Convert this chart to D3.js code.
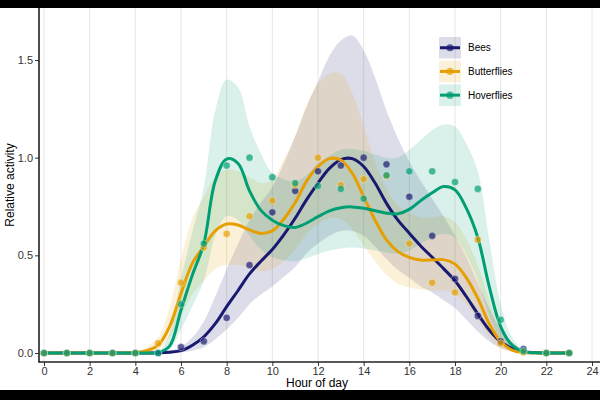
<html>
<head>
<meta charset="utf-8">
<script src="https://cdn.jsdelivr.net/npm/d3@7"></script>
<style>
  body { margin: 0; background: #000; }
  svg { display: block; font-family: "Liberation Sans", Arial, sans-serif; }
</style>
</head>
<body>
<svg id="chart"></svg>
<script>
// hours where the fitted curves / ribbons were read
var fitHours = [0,1,2,3,4,4.5,5,5.5,6,6.5,7,7.5,8,8.5,9,9.5,10,10.5,11,11.5,12,12.5,13,13.5,14,14.5,15,15.5,16,16.5,17,17.5,18,18.5,19,19.5,20,20.5,21,21.5,22,23];

var beeFit = [0,0,0,0,0,0,0.001,0.004,0.012,0.04,0.083,0.15,0.237,0.32,0.405,0.47,0.53,0.605,0.69,0.785,0.87,0.945,0.99,0.995,0.955,0.87,0.766,0.68,0.613,0.548,0.49,0.432,0.37,0.288,0.2,0.118,0.058,0.024,0.007,0.002,0,0];
var beeLo  = [0,0,0,0,0,0,0,0.001,0.003,0.012,0.03,0.07,0.12,0.18,0.25,0.30,0.34,0.39,0.44,0.51,0.56,0.60,0.625,0.625,0.60,0.545,0.48,0.425,0.385,0.34,0.31,0.27,0.23,0.17,0.11,0.06,0.025,0.008,0.001,0,0,0];
var beeHi  = [0,0,0,0,0,0.001,0.003,0.012,0.03,0.08,0.16,0.29,0.43,0.56,0.68,0.77,0.85,0.97,1.11,1.26,1.39,1.52,1.60,1.625,1.55,1.41,1.24,1.10,0.98,0.88,0.79,0.70,0.60,0.49,0.36,0.23,0.12,0.055,0.02,0.005,0,0];

var butterFit = [0,0,0,0,0.003,0.012,0.04,0.135,0.305,0.46,0.545,0.625,0.66,0.655,0.63,0.612,0.625,0.685,0.77,0.88,0.954,0.995,0.988,0.92,0.80,0.68,0.579,0.519,0.49,0.476,0.476,0.478,0.455,0.385,0.28,0.15,0.058,0.015,0.002,0,0,0];
var butterLo  = [0,0,0,0,0.001,0.005,0.02,0.08,0.19,0.30,0.37,0.43,0.45,0.45,0.44,0.42,0.43,0.47,0.53,0.61,0.66,0.69,0.685,0.635,0.55,0.47,0.40,0.355,0.335,0.325,0.32,0.32,0.30,0.25,0.17,0.08,0.025,0.005,0,0,0,0];
var butterHi  = [0,0,0,0,0.008,0.03,0.08,0.23,0.48,0.69,0.80,0.90,0.94,0.93,0.90,0.87,0.89,0.99,1.11,1.27,1.38,1.43,1.43,1.33,1.16,0.98,0.84,0.755,0.715,0.695,0.695,0.70,0.67,0.58,0.45,0.27,0.12,0.04,0.008,0.001,0,0];

var hoverFit = [0,0,0,0,0,0,0.002,0.035,0.22,0.40,0.56,0.88,0.993,0.97,0.83,0.73,0.68,0.652,0.643,0.665,0.698,0.728,0.744,0.748,0.741,0.728,0.716,0.713,0.735,0.78,0.82,0.852,0.835,0.74,0.59,0.34,0.135,0.04,0.007,0.001,0,0];
var hoverLo  = [0,0,0,0,0,0,0.001,0.02,0.12,0.24,0.37,0.60,0.70,0.68,0.60,0.53,0.49,0.475,0.47,0.485,0.505,0.525,0.535,0.54,0.535,0.525,0.515,0.51,0.525,0.56,0.59,0.61,0.59,0.50,0.37,0.19,0.07,0.018,0.003,0,0,0];
var hoverHi  = [0,0,0,0,0,0.001,0.006,0.10,0.38,0.62,0.85,1.24,1.40,1.36,1.16,1.02,0.92,0.89,0.88,0.91,0.97,1.01,1.04,1.045,1.035,1.015,1.00,1.00,1.04,1.09,1.14,1.17,1.16,1.07,0.93,0.58,0.25,0.08,0.015,0.003,0,0];

// observed hourly relative activity
var hours = d3.range(0, 24);
var beePts    = [0,0,0,0,0,0,0.03,0.06,0.18,0.45,0.72,0.83,0.93,0.96,1.0,0.966,0.80,0.60,0.38,0.19,0.06,0.02,0,0];
var butterPts = [0,0,0,0,0,0.05,0.36,0.54,0.61,0.70,0.78,0.86,1.0,0.86,0.89,0.905,0.56,0.36,0.31,0.58,0.05,0.004,0,0];
var hoverPts  = [0,0,0,0,0,0,0.25,0.56,0.96,1.0,0.90,0.87,0.855,0.84,0.79,0.91,0.93,0.93,0.875,0.84,0.17,0.01,0,0];

var xTicks = d3.range(0, 25, 2);
var yTicks = [0, 0.5, 1, 1.5];

var groups = [
  {name: "Bees", color: "#191970", fit: beeFit, lo: beeLo, hi: beeHi, pts: beePts},
  {name: "Butterflies", color: "#E69F00", fit: butterFit, lo: butterLo, hi: butterHi, pts: butterPts},
  {name: "Hoverflies", color: "#009E73", fit: hoverFit, lo: hoverLo, hi: hoverHi, pts: hoverPts}
];

var chartW = 600, chartH = 400;
var plotTop = 8, plotBottom = 362, plotLeft = 39;

var svg = d3.select("#chart").attr("width", chartW).attr("height", chartH);
svg.append("rect").attr("width", chartW).attr("height", chartH).attr("fill", "#000");
svg.append("rect").attr("y", plotTop).attr("width", chartW).attr("height", 390 - plotTop).attr("fill", "#fff");

var x = d3.scaleLinear().domain([0, 24]).range([44, 592]);
var y = d3.scaleLinear().domain([0, 1.5]).range([353, 60]);

// vertical grid
svg.append("g").selectAll("line")
  .data(xTicks)
  .enter().append("line")
  .attr("x1", d => x(d)).attr("x2", d => x(d))
  .attr("y1", plotTop).attr("y2", plotBottom)
  .attr("stroke", "#e6e6e6").attr("stroke-width", 1);

var area = d3.area()
  .x(d => x(d.h))
  .y0(d => y(Math.max(0, d.lo)))
  .y1(d => y(d.hi))
  .curve(d3.curveCatmullRom);

var line = d3.line()
  .x(d => x(d.h))
  .y(d => y(d.v))
  .curve(d3.curveCatmullRom);

groups.forEach(g => {
  let rows = fitHours.map((h, i) => ({h: h, lo: g.lo[i], hi: g.hi[i]}));
  svg.append("path").attr("d", area(rows))
    .attr("fill", g.color).attr("fill-opacity", 0.15);
});

groups.forEach(g => {
  let rows = fitHours.map((h, i) => ({h: h, v: g.fit[i]}));
  svg.append("path").attr("d", line(rows))
    .attr("fill", "none").attr("stroke", g.color).attr("stroke-width", 3);
});

groups.forEach(g => {
  svg.append("g").selectAll("circle")
    .data(hours)
    .enter().append("circle")
    .attr("cx", d => x(d))
    .attr("cy", (d, i) => y(g.pts[i]))
    .attr("r", 3.6)
    .attr("fill", g.color).attr("fill-opacity", 0.7)
    .attr("stroke", "#fff").attr("stroke-opacity", 0.6).attr("stroke-width", 0.6);
});

// axes
var yAxis = svg.append("g").attr("transform", "translate(" + plotLeft + ",0)")
  .call(d3.axisLeft(y).tickValues(yTicks).tickFormat(d3.format(".1f")).tickSize(4).tickPadding(2));
var xAxis = svg.append("g").attr("transform", "translate(0," + plotBottom + ")")
  .call(d3.axisBottom(x).tickValues(xTicks).tickSize(4).tickPadding(1));
[xAxis, yAxis].forEach(a => {
  a.select(".domain").remove();
  a.selectAll(".tick line").attr("stroke", "#333").attr("stroke-width", 1);
  a.selectAll(".tick text").attr("fill", "#333").style("font-size", "11px");
});
svg.append("line").attr("x1", plotLeft).attr("x2", plotLeft).attr("y1", plotTop).attr("y2", plotBottom + 0.5)
  .attr("stroke", "#222").attr("stroke-width", 1.6);
svg.append("line").attr("x1", plotLeft - 0.5).attr("x2", chartW).attr("y1", plotBottom).attr("y2", plotBottom)
  .attr("stroke", "#222").attr("stroke-width", 1.6);

svg.append("text").attr("x", 317).attr("y", 387).attr("text-anchor", "middle")
  .style("font-size", "12px").attr("fill", "#000").text("Hour of day");
svg.append("text").attr("transform", "translate(14,185) rotate(-90)").attr("text-anchor", "middle")
  .style("font-size", "12px").attr("fill", "#000").text("Relative activity");

// legend
var legend = svg.append("g").attr("transform", "translate(439,37)");
groups.forEach((g, i) => {
  let row = legend.append("g").attr("transform", "translate(0," + (i * 23.7) + ")");
  row.append("rect").attr("width", 22).attr("height", 21.5).attr("fill", g.color).attr("fill-opacity", 0.15);
  row.append("line").attr("x1", 1).attr("x2", 21).attr("y1", 10.75).attr("y2", 10.75)
    .attr("stroke", g.color).attr("stroke-width", 3);
  row.append("circle").attr("cx", 11).attr("cy", 10.75).attr("r", 3.6)
    .attr("fill", g.color).attr("fill-opacity", 0.7);
  row.append("text").attr("x", 29).attr("y", 10.75).attr("dy", "0.35em")
    .style("font-size", "10px").attr("fill", "#000").text(g.name);
});
</script>
</body>
</html>
